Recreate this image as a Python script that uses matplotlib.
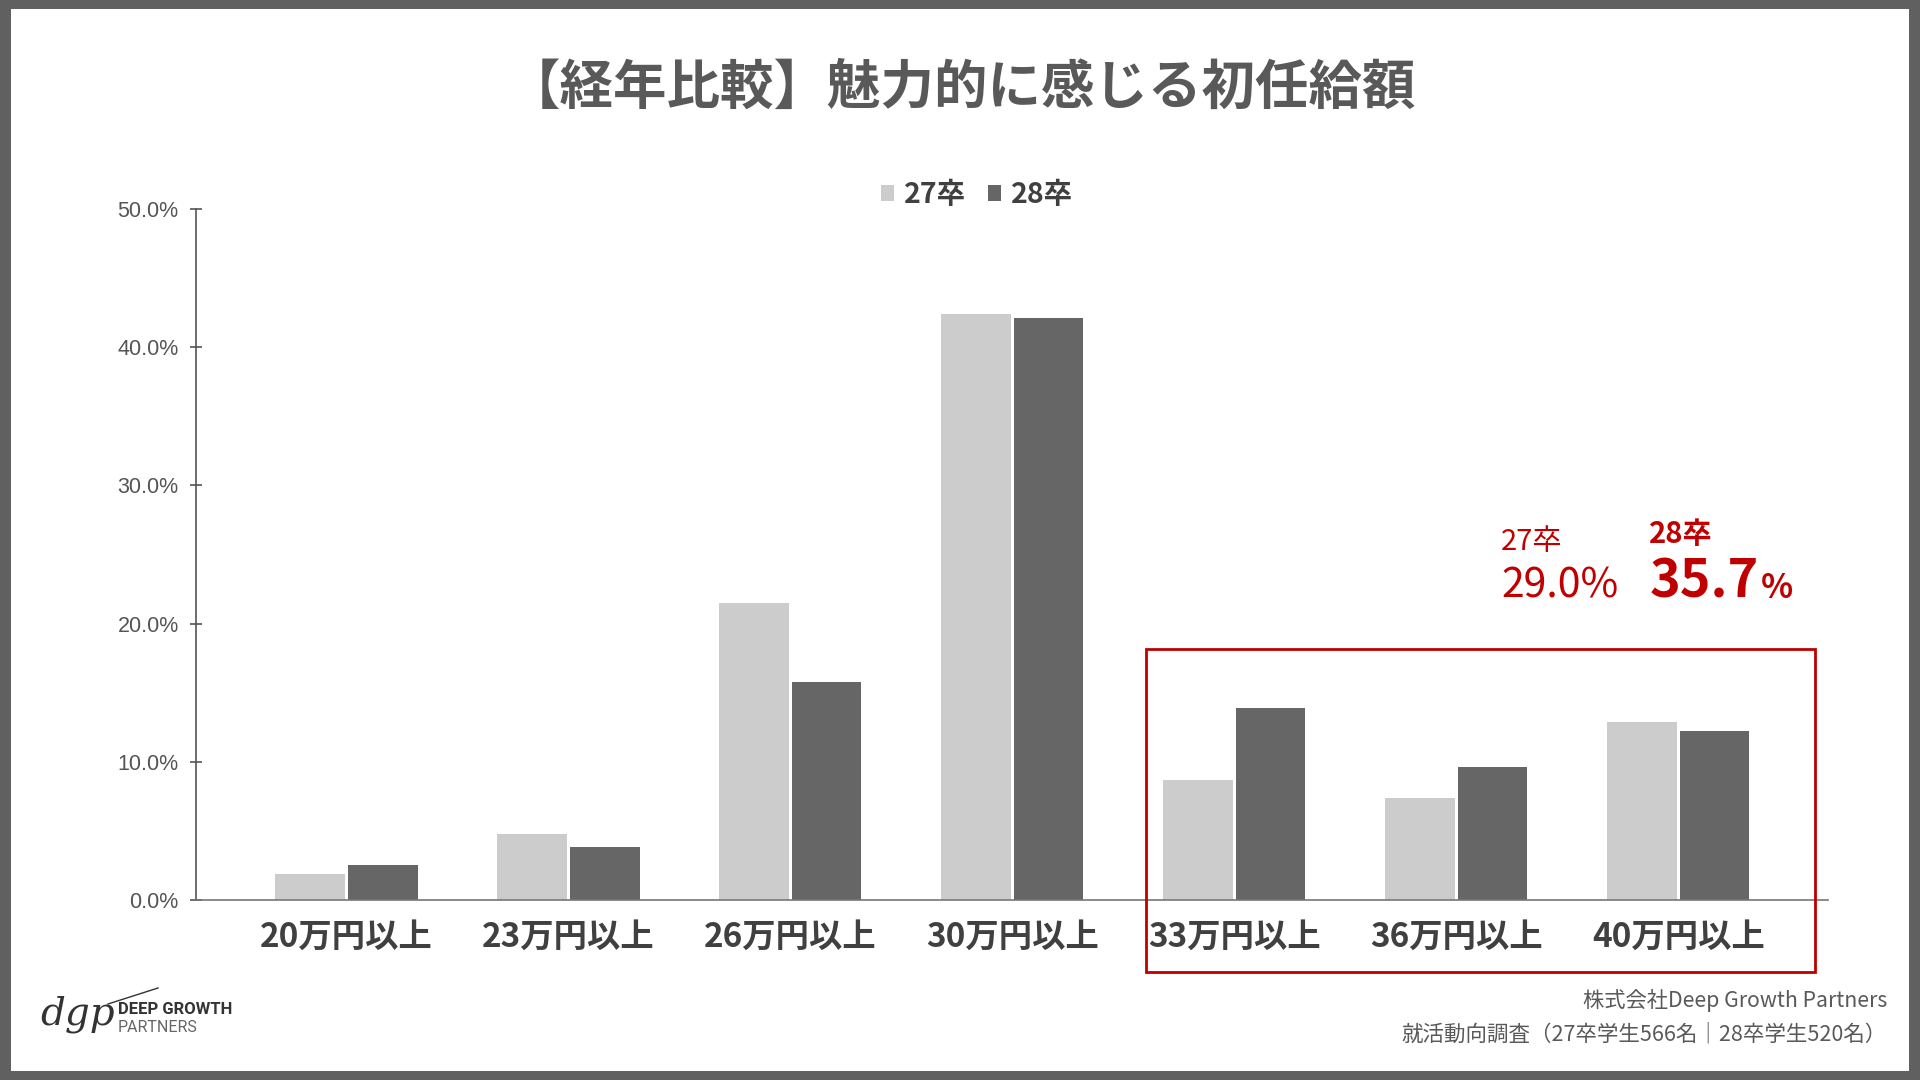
import matplotlib
matplotlib.use("Agg")
import matplotlib.pyplot as plt
from matplotlib.patches import Rectangle
from matplotlib.lines import Line2D
import numpy as np

plt.rcParams['font.family'] = ['Noto Sans CJK JP', 'DejaVu Sans']

# data
categories = ["20万円以上", "23万円以上", "26万円以上", "30万円以上", "33万円以上", "36万円以上", "40万円以上"]
grad27 = [1.9, 4.8, 21.5, 42.4, 8.7, 7.4, 12.9]
grad28 = [2.5, 3.8, 15.8, 42.1, 13.9, 9.6, 12.2]
series_names = ["27卒", "28卒"]
yticks = [0, 10, 20, 30, 40, 50]

LIGHT = "#cccccc"
DARK = "#666666"
RED = "#c00000"
TXT = "#595959"

W, H = 1920, 1080
fig = plt.figure(figsize=(19.2, 10.8), dpi=100)
fig.patch.set_facecolor("#606060")
fig.add_artist(Rectangle((11 / W, 9 / H), 1 - 22 / W, 1 - 18 / H,
                         transform=fig.transFigure, facecolor="white", edgecolor="none", zorder=0))


def fx(px):
    return px / W


def fy(py):
    return 1 - py / H


ax = fig.add_axes([fx(196), fy(900), (1828 - 196) / W, (900 - 209) / H])
ax.set_facecolor("none")

x = np.arange(len(categories))
bw = 0.314
off = 0.163
ax.bar(x - off, grad27, bw, color=LIGHT, label=series_names[0], zorder=2)
ax.bar(x + off, grad28, bw, color=DARK, label=series_names[1], zorder=2)

ax.set_xlim(-0.678, 6.674)
ax.set_ylim(0, 50)
ax.set_yticks(yticks)
ax.set_yticklabels([f"{t:.1f}%" for t in yticks], family="Liberation Sans", fontsize=15.5, color="#555555")
ax.tick_params(axis="y", direction="inout", length=9, width=1.2, color="#555555", pad=8)
ax.set_xticks(x)
ax.set_xticklabels(categories, fontsize=24, fontweight="bold", color="#404040")
ax.tick_params(axis="x", length=0, pad=15)

for s in ["top", "right"]:
    ax.spines[s].set_visible(False)
ax.spines["left"].set_color("#555555")
ax.spines["left"].set_linewidth(1.2)
ax.spines["bottom"].set_color("#777777")
ax.spines["bottom"].set_linewidth(1.2)

ax.legend(loc="center", bbox_to_anchor=(fx(977), fy(195)), bbox_transform=fig.transFigure,
          ncol=2, frameon=False, handlelength=0.45, handleheight=0.45, handletextpad=0.35,
          columnspacing=0.8, prop={"size": 20.5, "weight": "bold"}, labelcolor="#404040")

# title
fig.text(fx(961), fy(88), "【経年比較】魅力的に感じる初任給額", ha="center", va="center",
         fontsize=38.5, fontweight="bold", color=TXT)

# highlight box and totals for the top three bands
fig.add_artist(Rectangle((fx(1146), fy(972)), (1815 - 1146) / W, (972 - 649) / H,
                         transform=fig.transFigure, facecolor="none", edgecolor=RED, linewidth=2, zorder=5))
total27 = sum(grad27[4:])
total28 = sum(grad28[4:])
fig.text(fx(1501), fy(550), series_names[0], ha="left", va="baseline", fontsize=21, color=RED)
fig.text(fx(1501), fy(598), f"{total27:.1f}%", ha="left", va="baseline", fontsize=29.5, color=RED)
fig.text(fx(1649), fy(543), series_names[1], ha="left", va="baseline", fontsize=21, fontweight="bold", color=RED)
fig.text(fx(1650), fy(598), f"{total28:.1f}", ha="left", va="baseline", fontsize=37.5, fontweight="bold", color=RED)
fig.text(fx(1761), fy(598), "%", ha="left", va="baseline", fontsize=24, fontweight="bold", color=RED)

# source
fig.text(fx(1887), fy(1001), "株式会社Deep Growth Partners", ha="right", va="center", fontsize=15.3, color=TXT)
fig.text(fx(1887), fy(1034), "就活動向調査（27卒学生566名｜28卒学生520名）", ha="right", va="center", fontsize=15.5, color=TXT)

# logo
fig.text(fx(40), fy(1014), "dgp", ha="left", va="center", family="DejaVu Serif", style="italic",
         fontsize=28, color="#333333", fontweight="light")
fig.add_artist(Line2D([fx(108), fx(158)], [fy(1004), fy(988)], transform=fig.transFigure,
                      color="#333333", linewidth=1))
fig.text(fx(118), fy(1009), "DEEP GROWTH", ha="left", va="center", family="Roboto",
         fontsize=12, fontweight="bold", color="#333333")
fig.text(fx(118), fy(1028), "PARTNERS", ha="left", va="center", family="Roboto",
         fontsize=11.5, color="#666666")

fig.savefig("out.png", dpi=100, facecolor=fig.get_facecolor())
